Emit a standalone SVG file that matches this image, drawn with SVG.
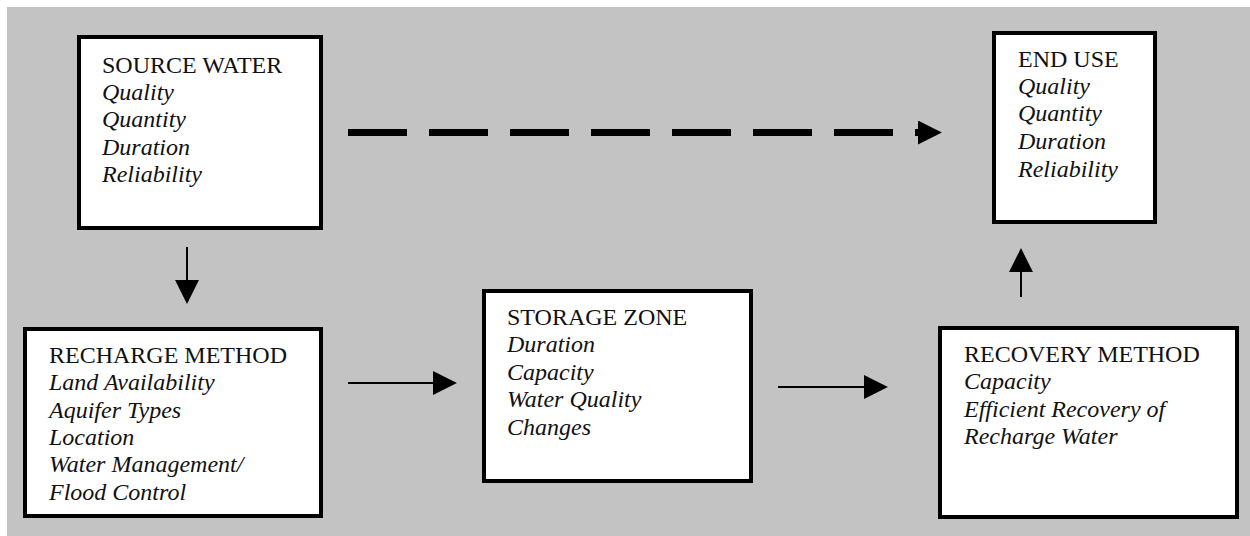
<svg xmlns="http://www.w3.org/2000/svg" width="1250" height="536" viewBox="0 0 1250 536">
<style>
.box{fill:#ffffff;stroke:#000000;stroke-width:4}
.t{font-family:"Liberation Serif","Times New Roman",serif;font-size:24px;fill:#111111}
.i{font-style:italic}
.c{stroke:#000000;stroke-width:2;fill:none}
.d{stroke:#000000;stroke-width:7;fill:none;stroke-dasharray:59 22}
</style>
<defs>
<marker id="ah" markerUnits="userSpaceOnUse" markerWidth="24" markerHeight="24" viewBox="0 0 22 22" refX="1" refY="11" orient="auto">
<path d="M0,0 L22,11 L0,22 Z" fill="#000000"/>
</marker>
</defs>
<rect x="0" y="0" width="1250" height="536" fill="#ffffff"/>
<rect x="7" y="7" width="1243" height="529" fill="#c3c3c3"/>
<g id="source-water">
<rect class="box" x="79" y="37" width="242" height="191"/>
<text class="t" x="102" y="73">SOURCE WATER</text>
<text class="t i" x="102"><tspan x="102" y="100">Quality</tspan><tspan x="102" y="127">Quantity</tspan><tspan x="102" y="155">Duration</tspan><tspan x="102" y="182">Reliability</tspan></text>
</g>
<g id="recharge-method">
<rect class="box" x="25" y="329" width="296" height="187"/>
<text class="t" x="49" y="363">RECHARGE METHOD</text>
<text class="t i"><tspan x="49" y="390">Land Availability</tspan><tspan x="49" y="418">Aquifer Types</tspan><tspan x="49" y="445">Location</tspan><tspan x="49" y="472">Water Management/</tspan><tspan x="49" y="500">Flood Control</tspan></text>
</g>
<g id="storage-zone">
<rect class="box" x="484" y="291" width="267" height="190"/>
<text class="t" x="507" y="325">STORAGE ZONE</text>
<text class="t i"><tspan x="507" y="352">Duration</tspan><tspan x="507" y="380">Capacity</tspan><tspan x="507" y="407">Water Quality</tspan><tspan x="507" y="435">Changes</tspan></text>
</g>
<g id="end-use">
<rect class="box" x="994" y="33" width="161" height="189"/>
<text class="t" x="1018" y="67">END USE</text>
<text class="t i"><tspan x="1018" y="94">Quality</tspan><tspan x="1018" y="121">Quantity</tspan><tspan x="1018" y="149">Duration</tspan><tspan x="1018" y="177">Reliability</tspan></text>
</g>
<g id="recovery-method">
<rect class="box" x="940" y="328" width="297" height="189"/>
<text class="t" x="964" y="362">RECOVERY METHOD</text>
<text class="t i"><tspan x="964" y="389">Capacity</tspan><tspan x="964" y="417">Efficient Recovery of</tspan><tspan x="964" y="444">Recharge Water</tspan></text>
</g>
<g id="connectors">
<line class="d" x1="348" y1="132.5" x2="919" y2="132.5" marker-end="url(#ah)"/>
<line class="c" x1="187" y1="247" x2="187" y2="281" marker-end="url(#ah)"/>
<line class="c" x1="348" y1="383" x2="434" y2="383" marker-end="url(#ah)"/>
<line class="c" x1="778" y1="387" x2="865" y2="387" marker-end="url(#ah)"/>
<line class="c" x1="1021" y1="297" x2="1021" y2="271" marker-end="url(#ah)"/>
</g>
</svg>
